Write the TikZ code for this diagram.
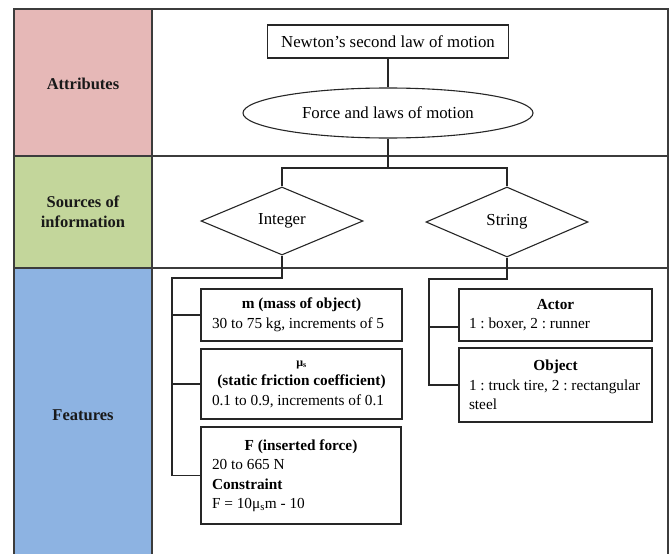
\documentclass[tikz,border=0pt]{standalone}
\usepackage{fontspec}
\setmainfont{Liberation Serif}
\usetikzlibrary{shapes.geometric}
\definecolor{attrpink}{HTML}{E6B8B7}
\definecolor{srcgreen}{HTML}{C3D69B}
\definecolor{featblue}{HTML}{8DB3E2}
\definecolor{gridgray}{HTML}{3C3C3C}
\definecolor{linegray}{HTML}{262626}
\newcommand{\rsp}{\spaceskip=0pt\xspaceskip=0pt\frenchspacing\hyphenpenalty=10000\exhyphenpenalty=10000\relax}
\begin{document}
\begin{tikzpicture}[x=1pt,y=-1pt,
  grid/.style={draw=gridgray, line width=1.6pt},
  conn/.style={draw=linegray, line width=1.1pt},
  toptext/.style={font=\fontsize{16.8}{20}\selectfont},
  topbox/.style={toptext, draw=linegray, line width=1.1pt, rectangle, inner sep=0pt},
  sidelabel/.style={font=\fontsize{16.5}{20}\bfseries\selectfont, align=center, text=black!90},
  featbox/.style={draw=linegray, line width=1.1pt, rectangle, inner xsep=11pt, inner ysep=0pt,
    align=flush left, font=\fontsize{15.3}{19.5}\selectfont}
]
\useasboundingbox (0,0) rectangle (670,554);
\clip (0,0) rectangle (670,554);

% left column fills
\fill[attrpink] (14,9) rectangle (152,156);
\fill[srcgreen] (14,156) rectangle (152,268);
\fill[featblue] (14,268) rectangle (152,600);

% grid
\draw[grid] (14,9) rectangle (668,600);
\draw[grid] (152,9) -- (152,600);
\draw[grid] (14,156) -- (668,156);
\draw[grid] (14,268) -- (668,268);

% side labels
\node[sidelabel] (attr) at (83,84) {\rsp Attributes};
\node[sidelabel] (src) at (83,212) {\rsp Sources of\\information};
\node[sidelabel] (feat) at (83,415) {\rsp Features};

% top nodes
\node[topbox, minimum width=241pt, minimum height=33pt] (newton) at (388,41.5) {Newton’s second law of motion};
\node[topbox, ellipse, minimum width=290pt, minimum height=50pt] (force) at (388,113) {Force and laws of motion};

\node[topbox, diamond, minimum width=162pt, minimum height=68pt] (integer) at (282,221) {Integer};
\node[topbox, diamond, minimum width=162pt, minimum height=70pt] (string) at (507,222) {String};

% feature boxes
\node[featbox, text width=179pt, minimum height=52pt] (mbox) at (301.5,315)
  {\rsp\hfill\textbf{m (mass of object)}\hfill\null\\30 to 75 kg, increments of 5};
\node[featbox, text width=179pt, minimum height=70pt] (mubox) at (301.5,384)
  {\rsp\hfill{\fontsize{12}{14}\selectfont\textbf{μ\textsubscript{s}}}\hfill\null\\
   \hfill\textbf{(static friction coefficient)}\hfill\null\\0.1 to 0.9, increments of 0.1};
\node[featbox, text width=178pt, minimum height=97pt] (fbox) at (301,475.5)
  {\rsp\hfill\textbf{F (inserted force)}\hfill\null\\20 to 665 N\\\textbf{Constraint}\\F = 10μ\textsubscript{s}m - 10};
\node[featbox, inner xsep=10pt, text width=173pt, minimum height=52pt] (actor) at (555.5,315)
  {\rsp\hfill\textbf{Actor}\hfill\null\\1 : boxer, 2 : runner};
\node[featbox, inner xsep=10pt, text width=173pt, minimum height=74pt] (object) at (555.5,385)
  {\rsp\hfill\textbf{Object}\hfill\null\\1 : truck tire, 2 : rectangular steel};

% connectors
\coordinate (split) at (388,168);
\coordinate (lt) at (172,278);
\coordinate (rt) at (429,279);
\coordinate (actc) at ([yshift=-12pt]actor.west);

\draw[conn] (newton.south) -- (force.north);
\draw[conn] (force.south) -- (split);
\draw[conn] (integer.north) -- (integer.north |- split) -- (string.north |- split) -- (string.north);
\draw[conn] (integer.south) -- (integer.south |- lt) -- (lt) -- (lt |- fbox.west) -- (fbox.west);
\draw[conn] (lt |- mbox.west) -- (mbox.west);
\draw[conn] (lt |- mubox.west) -- (mubox.west);
\draw[conn] (string.south) -- (string.south |- rt) -- (rt) -- (rt |- object.west) -- (object.west);
\draw[conn] (rt |- actc) -- (actc);
\end{tikzpicture}
\end{document}
